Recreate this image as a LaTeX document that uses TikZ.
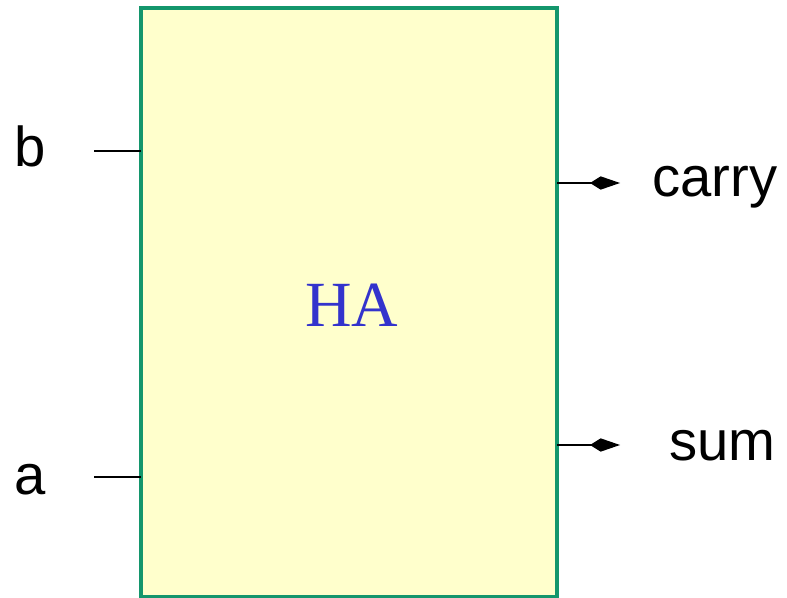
\documentclass[tikz,border=0pt]{standalone}
\usepackage{fontspec}
\setmainfont{Liberation Serif}
\setsansfont{Liberation Sans}
\usetikzlibrary{arrows.meta}

\definecolor{boxgreen}{RGB}{20,150,108}
\definecolor{boxfill}{RGB}{255,255,204}
\definecolor{hablue}{RGB}{51,51,204}

\tikzset{
  blockline/.style={draw=boxgreen, fill=boxfill, line width=0.14cm},
  blocklabel/.style={anchor=base west, inner sep=0pt, text=hablue, font=\fontsize{55}{60}\selectfont},
  pinlabel/.style={anchor=base west, inner sep=0pt, font=\sffamily\fontsize{48}{52}\selectfont},
  wire/.style={line width=0.075cm},
  outwire/.style={wire, -{Kite[length=0.9cm, width=0.4cm, inset=0.32cm]}},
}

\begin{document}
\begin{tikzpicture}[x=0.03cm, y=-0.03cm]
  \useasboundingbox (0,0) rectangle (787,598);
  % half adder block
  \draw[blockline] (141,8) rectangle (557,597);
  \node[blocklabel] (ha) at (305,327) {HA};
  % pins on the block edge
  \coordinate (bpin) at (141,151);
  \coordinate (apin) at (141,477);
  \coordinate (carrypin) at (557,183);
  \coordinate (sumpin) at (557,445);
  \coordinate (bend) at (94,151);
  \coordinate (aend) at (94,477);
  \coordinate (carryend) at (620,183);
  \coordinate (sumend) at (620,445);
  % inputs
  \node[pinlabel] (b) at (14,167) {b};
  \node[pinlabel] (a) at (14,494) {a};
  \draw[wire] (bend) -- (bpin);
  \draw[wire] (aend) -- (apin);
  % outputs
  \node[pinlabel] (carry) at (652,197) {carry};
  \node[pinlabel] (sum) at (669,460) {sum};
  \draw[outwire] (carrypin) -- (carryend);
  \draw[outwire] (sumpin) -- (sumend);
\end{tikzpicture}
\end{document}
